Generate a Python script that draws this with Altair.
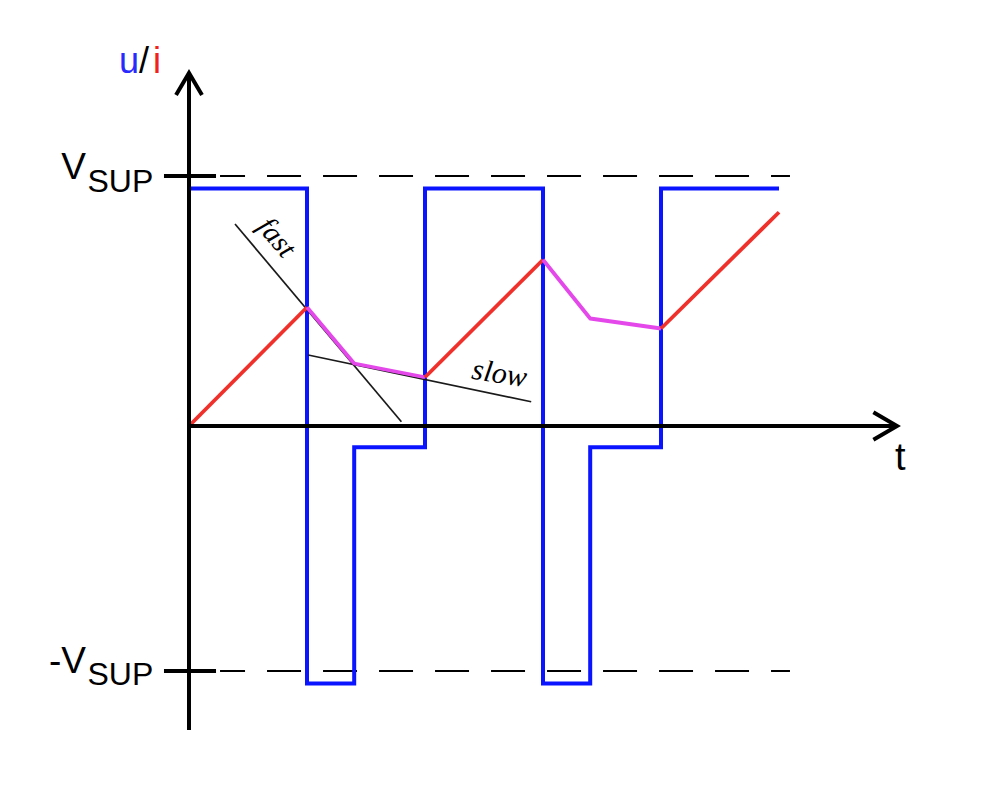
import altair as alt
import pandas as pd

# ---- data (time in arbitrary units, amplitude in arbitrary units; V_SUP = 10) ----
blue_t = [0, 10, 10, 14, 14, 20, 20, 30, 30, 34, 34, 40, 40, 50]
blue_u = [9.5, 9.5, -10.3, -10.3, -0.85, -0.85, 9.5, 9.5, -10.3, -10.3, -0.85, -0.85, 9.5, 9.5]

cur_t = [0, 10, 14, 20, 30, 34, 40, 50]
cur_i = [0, 4.75, 2.5, 1.95, 6.65, 4.3, 3.9, 8.55]
# segment groups: (start index, end index, colour key)
cur_groups = [(0, 1, "rise"), (1, 3, "decay"), (3, 4, "rise"), (4, 6, "decay"), (6, 7, "rise")]

v_sup = 10.0
v_sup_neg = -9.8

fast_t = [3.9, 18.0]
fast_y = [8.08, 0.17]
slow_t = [10.1, 29.0]
slow_y = [2.84, 0.97]

# axes geometry
x_axis_t = [0, 60]
y_axis_y = [-12.16, 14.12]

# scale domains (pixel-matched)
X_DOM = [-15.339, 67.373]
Y_DOM = [-14.48, 16.72]
W, H = 976, 780

xs = alt.Scale(domain=X_DOM, nice=False, zero=False)
ys = alt.Scale(domain=Y_DOM, nice=False, zero=False)


def X(f="t"):
    return alt.X(f"{f}:Q", scale=xs, axis=None)


def Y(f="y"):
    return alt.Y(f"{f}:Q", scale=ys, axis=None)


def X2(f="t2"):
    return alt.X2(f"{f}:Q")


def Y2(f="y2"):
    return alt.Y2(f"{f}:Q")


layers = []

# dashed reference lines + solid ticks
for lev in [v_sup, v_sup_neg]:
    d = pd.DataFrame({"t": [2.63], "t2": [50.93], "y": [lev], "y2": [lev]})
    layers.append(alt.Chart(d).mark_rule(color="black", strokeWidth=2, strokeDash=[34, 22],
                                          strokeDashOffset=9).encode(x=X(), x2=X2(), y=Y()))
    d2 = pd.DataFrame({"t": [-2.12], "t2": [2.29], "y": [lev]})
    layers.append(alt.Chart(d2).mark_rule(color="black", strokeWidth=4).encode(x=X(), x2=X2(), y=Y()))

# blue voltage
bdf = pd.DataFrame({"t": blue_t, "y": blue_u, "o": list(range(len(blue_t)))})
layers.append(alt.Chart(bdf).mark_line(color="#0a14ff", strokeWidth=4, strokeJoin="miter").encode(
    x=X(), y=Y(), order="o:Q"))

# tangent lines
for tt, yy in [(fast_t, fast_y), (slow_t, slow_y)]:
    d = pd.DataFrame({"t": [tt[0]], "t2": [tt[1]], "y": [yy[0]], "y2": [yy[1]]})
    layers.append(alt.Chart(d).mark_rule(color="#1a1a1a", strokeWidth=1.7).encode(
        x=X(), x2=X2(), y=Y(), y2=Y2()))

# current
rows = []
for g, (a, b, kind) in enumerate(cur_groups):
    for k in range(a, b + 1):
        rows.append({"t": cur_t[k], "y": cur_i[k], "g": g, "kind": kind, "o": k})
cdf = pd.DataFrame(rows)
layers.append(alt.Chart(cdf).mark_line(strokeWidth=3.8, strokeJoin="round").encode(
    x=X(), y=Y(), detail="g:N", order="o:Q",
    color=alt.Color("kind:N", scale=alt.Scale(domain=["rise", "decay"], range=["#f0302a", "#e448ea"]),
                    legend=None)))

# axes
layers.append(alt.Chart(pd.DataFrame({"t": [x_axis_t[0]], "t2": [x_axis_t[1]], "y": [0]})).mark_rule(
    color="black", strokeWidth=4).encode(x=X(), x2=X2(), y=Y()))
layers.append(alt.Chart(pd.DataFrame({"t": [0], "y": [y_axis_y[0]], "y2": [y_axis_y[1]]})).mark_rule(
    color="black", strokeWidth=4).encode(x=X(), y=Y(), y2=Y2()))

# arrowheads
arr = pd.DataFrame({
    "t": [58.0, 60.0, 58.0, -1.1, 0.0, 1.1],
    "y": [0.55, 0.0, -0.55, 13.24, 14.12, 13.24],
    "g": ["x", "x", "x", "y", "y", "y"],
    "o": [0, 1, 2, 0, 1, 2],
})
layers.append(alt.Chart(arr).mark_line(color="black", strokeWidth=4, strokeJoin="miter").encode(
    x=X(), y=Y(), detail="g:N", order="o:Q"))


# text labels
def label(text, t, y, size, color="black", align="left", font="Liberation Sans", style="normal",
          angle=0, baseline="alphabetic"):
    d = pd.DataFrame({"t": [t], "y": [y], "label": [text]})
    return alt.Chart(d).mark_text(font=font, fontSize=size, color=color, align=align,
                                  baseline=baseline, fontStyle=style, angle=angle).encode(
        x=X(), y=Y(), text="label:N")


layers.append(label("V", -8.73, 9.88, 37, align="right"))
layers.append(label("SUP", -8.6, 9.36, 32))
layers.append(label("-V", -8.73, -9.88, 37, align="right"))
layers.append(label("SUP", -8.6, -10.36, 32))
layers.append(label("u", -5.93, 14.12, 36, color="#2a2aff"))
layers.append(label("/", -4.24, 14.12, 36, color="black"))
layers.append(label("i", -3.05, 14.12, 36, color="#f02020"))
layers.append(label("t", 59.83, -1.76, 38))
layers.append(label("fast", 7.42, 7.54, 29, font="Liberation Serif", style="italic", align="center",
                    angle=50, baseline="middle"))
layers.append(label("slow", 26.31, 2.08, 30, font="Liberation Serif", style="italic", align="center",
                    angle=9, baseline="middle"))

chart = alt.layer(*layers).properties(width=W, height=H, padding=0, autosize="none").configure_view(
    stroke=None)

chart.save("out.html", embed_options={"renderer": "svg", "actions": False})
